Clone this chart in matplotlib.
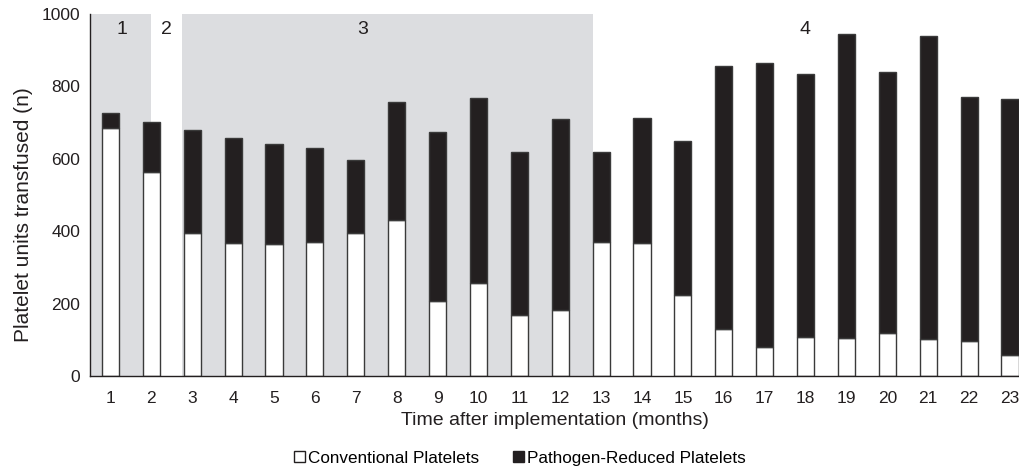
import numpy as np
import matplotlib.pyplot as plt
from matplotlib.patches import Patch

plt.rcParams['font.family'] = ['Liberation Sans', 'DejaVu Sans']

# Data
months = list(range(1, 24))
total = [727, 703, 680, 657, 641, 630, 598, 758, 673, 769, 619, 711,
         620, 714, 648, 855, 866, 835, 944, 839, 939, 771, 764]
conventional = [686, 563, 395, 367, 366, 370, 395, 430, 207, 256, 168, 183,
                371, 368, 225, 130, 80, 107, 104, 118, 101, 97, 59]
pathogen_reduced = [t - c for t, c in zip(total, conventional)]

phase_labels = ['1', '2', '3', '4']
phase_label_x = [1.28, 2.38, 7.17, 17.98]
phase_shading = [(0.5, 2.0), (2.75, 12.79)]

fig = plt.figure(figsize=(10.19, 4.70), dpi=100)
ax = fig.add_axes([0.0883, 0.2, 0.9117, 0.7702])

for x0, x1 in phase_shading:
    ax.axvspan(x0, x1, color='#dcdde0', lw=0, zorder=0)

w = 0.42
ax.bar(months, conventional, width=w, color='white', edgecolor='#3a3a3a',
       linewidth=1.0, zorder=2)
ax.bar(months, pathogen_reduced, width=w, bottom=conventional, color='#231f20',
       edgecolor='#3a3a3a', linewidth=1.0, zorder=2)

for lab, lx in zip(phase_labels, phase_label_x):
    ax.text(lx, 958, lab, fontsize=14, color='#231f20', ha='center', va='center')

ax.set_xlim(0.5, 23.22)
ax.set_ylim(0, 1000)
ax.set_xticks(months)
ax.set_yticks([0, 200, 400, 600, 800, 1000])
ax.tick_params(length=0, labelsize=12.5, colors='#231f20')
ax.tick_params(axis='x', pad=11)
ax.tick_params(axis='y', pad=7)
for s in ['top', 'right']:
    ax.spines[s].set_visible(False)
for s in ['left', 'bottom']:
    ax.spines[s].set_color('#231f20')
    ax.spines[s].set_linewidth(1.0)

ax.set_xlabel('Time after implementation (months)', fontsize=14,
              color='#231f20', labelpad=4)
ax.set_ylabel('Platelet units transfused (n)', fontsize=15, color='#231f20')
ax.yaxis.set_label_coords(-0.0614, 0.445)

handles = [Patch(facecolor='white', edgecolor='#231f20', label='Conventional Platelets'),
           Patch(facecolor='#231f20', edgecolor='#231f20', label='Pathogen-Reduced Platelets')]
fig.legend(handles=handles, loc='center', bbox_to_anchor=(0.51, 0.025), ncol=2,
           frameon=False, fontsize=12.3, handlelength=0.65, handleheight=0.65,
           handletextpad=0.15, columnspacing=2.0)

fig.savefig('out.png', dpi=100)
